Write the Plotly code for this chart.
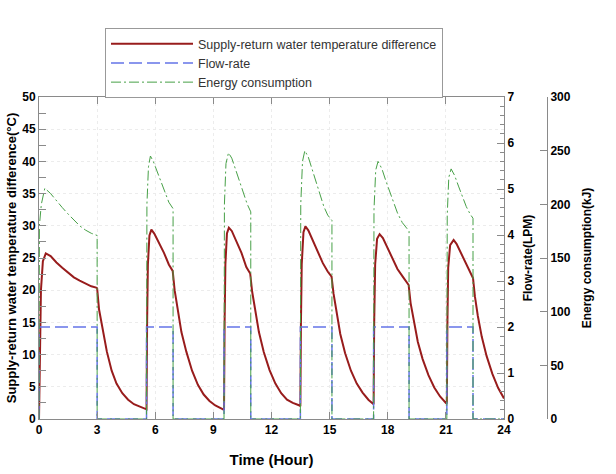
import plotly.graph_objects as go

# ---------------- data ----------------
t_temp = [0.0, 0.05, 0.1, 0.2, 0.35, 0.6, 0.9, 1.2, 1.5, 1.8, 2.1, 2.4, 2.7, 2.95, 3.0,
          3.1, 3.25, 3.5, 3.75, 4.0, 4.3, 4.6, 4.9, 5.2, 5.5,
          5.55, 5.58, 5.62, 5.7, 5.8, 5.95, 6.2, 6.45, 6.7, 6.9,
          7.0, 7.15, 7.35, 7.6, 7.9, 8.2, 8.5, 8.8, 9.1, 9.5,
          9.55, 9.58, 9.62, 9.7, 9.8, 9.95, 10.2, 10.45, 10.7, 10.9,
          11.0, 11.15, 11.35, 11.6, 11.9, 12.2, 12.5, 12.8, 13.1, 13.45,
          13.49, 13.52, 13.56, 13.65, 13.75, 13.9, 14.15, 14.4, 14.65, 14.9, 15.1,
          15.2, 15.35, 15.55, 15.8, 16.1, 16.4, 16.7, 17.0, 17.25,
          17.27, 17.3, 17.35, 17.45, 17.58, 17.75, 18.0, 18.25, 18.5, 18.8, 19.08,
          19.18, 19.35, 19.55, 19.8, 20.1, 20.4, 20.7, 21.0,
          21.05, 21.08, 21.12, 21.22, 21.4, 21.55, 21.8, 22.05, 22.25, 22.4,
          22.5, 22.65, 22.85, 23.1, 23.4, 23.7, 24.0]
temp_diff = [0.0, 12.0, 20.0, 24.5, 25.7, 25.3, 24.3, 23.5, 22.7, 22.0, 21.5, 21.0, 20.6, 20.4, 20.3,
             17.0, 14.5, 10.5, 7.5, 5.5, 4.0, 3.0, 2.3, 1.9, 1.5,
             1.5, 15.0, 24.0, 28.5, 29.4, 28.8, 27.3, 25.8, 24.0, 23.0,
             20.0, 17.0, 13.5, 10.5, 7.5, 5.3, 3.8, 2.8, 2.1, 1.5,
             1.4, 15.0, 24.0, 28.8, 29.7, 29.2, 27.6, 25.8, 23.6, 22.6,
             19.8, 16.8, 13.5, 10.4, 7.6, 5.5, 4.0, 3.0, 2.5, 2.1,
             2.0, 15.0, 24.0, 29.0, 29.9, 29.3, 27.6, 25.8, 24.2, 22.9, 22.1,
             19.5, 16.5, 13.2, 10.2, 7.5, 5.5, 4.1, 3.0, 2.3,
             2.3, 15.0, 24.0, 28.0, 28.7, 28.1, 26.5, 24.8, 23.3, 22.0, 20.8,
             18.0, 15.0, 12.0, 9.3, 6.8, 4.9, 3.5, 2.5,
             2.4, 15.0, 23.5, 27.0, 27.8, 27.2, 25.6, 24.0, 22.7, 21.9,
             19.0, 16.0, 12.8, 9.8, 7.0, 4.8, 3.2]

t_flow = [0, 0, 3.0, 3.0, 5.55, 5.55, 6.92, 6.92, 9.55, 9.55, 10.93, 10.93,
          13.49, 13.49, 15.12, 15.12, 17.27, 17.27, 19.1, 19.1, 21.05, 21.05, 22.4, 22.4, 24]
flow_rate = [0, 2.0, 2.0, 0, 0, 2.0, 2.0, 0, 0, 2.0, 2.0, 0,
             0, 2.0, 2.0, 0, 0, 2.0, 2.0, 0, 0, 2.0, 2.0, 0, 0]

t_energy = [0, 0.02, 0.12, 0.3, 0.6, 0.9, 1.2, 1.5, 1.8, 2.1, 2.4, 2.7, 3.0, 3.0,
            5.55, 5.57, 5.65, 5.75, 5.9, 6.1, 6.3, 6.5, 6.7, 6.92, 6.92,
            9.55, 9.57, 9.65, 9.78, 9.95, 10.15, 10.35, 10.55, 10.75, 10.93, 10.93,
            13.49, 13.51, 13.6, 13.72, 13.9, 14.1, 14.3, 14.5, 14.7, 14.9, 15.12, 15.12,
            17.27, 17.29, 17.38, 17.5, 17.7, 17.9, 18.1, 18.3, 18.5, 18.75, 19.1, 19.1,
            21.05, 21.07, 21.15, 21.27, 21.45, 21.65, 21.85, 22.05, 22.25, 22.4, 22.4, 24]
energy = [0, 180, 200, 215, 210, 203, 197, 191, 185, 180, 176, 173, 171, 0,
          0, 200, 235, 245, 240, 230, 220, 210, 202, 196, 0,
          0, 200, 238, 248, 243, 232, 222, 212, 200, 193, 0,
          0, 200, 240, 250, 244, 232, 220, 208, 198, 190, 185, 0,
          0, 195, 232, 240, 233, 222, 212, 202, 192, 183, 175, 0,
          0, 190, 225, 233, 227, 217, 207, 198, 191, 187, 0, 0]

x_ticks = [0, 3, 6, 9, 12, 15, 18, 21, 24]

# ---------------- figure ----------------
FONT = "Liberation Sans"
AX = "#8a8a8a"
tickfont = dict(family=FONT, size=12, color="black", weight="bold")

fig = go.Figure()
fig.add_trace(go.Scatter(x=t_temp, y=temp_diff, mode="lines",
                         name="Supply-return water temperature difference",
                         line=dict(color="#981c1c", width=2)))
fig.add_trace(go.Scatter(x=t_flow, y=flow_rate, yaxis="y2", mode="lines",
                         name="Flow-rate",
                         line=dict(color="#6474e8", width=1.5, dash="13px,5px")))
fig.add_trace(go.Scatter(x=t_energy, y=energy, yaxis="y3", mode="lines",
                         name="Energy consumption",
                         line=dict(color="#47a047", width=1, dash="10px,3px,2px,3px")))

L, R = 39, 40
PW = 616 - L - R
XEND = (504 - L) / PW
POS3 = (547 - L) / PW

fig.update_layout(
    width=616, height=474,
    margin=dict(l=L, r=R, t=97, b=55),
    paper_bgcolor="white", plot_bgcolor="white",
    font=dict(family=FONT, color="black"),
    legend=dict(x=(105 - L) / PW, y=1 + (97 - 28) / 322, xanchor="left", yanchor="top",
                bgcolor="white", bordercolor="#999999", borderwidth=1,
                font=dict(family=FONT, size=12.5, color="#333333"),
                traceorder="normal", itemwidth=82, entrywidth=260,
                tracegroupgap=0),
    xaxis=dict(domain=[0, XEND], range=[0, 24], tickvals=x_ticks, automargin=False,
               ticks="inside", ticklen=7, tickcolor=AX, mirror="ticks",
               showline=True, linecolor=AX, linewidth=1,
               showgrid=True, gridcolor="#ececec", griddash="dot",
               zeroline=False, tickfont=tickfont,
               title=dict(text="Time (Hour)", standoff=18,
                          font=dict(family=FONT, size=15, color="black", weight="bold"))),
    yaxis=dict(range=[0, 50], dtick=5, ticks="inside", ticklen=7, tickcolor=AX, automargin=False,
               minor=dict(dtick=2.5, ticks="inside", ticklen=7, tickcolor=AX),
               showline=True, linecolor=AX, linewidth=1,
               showgrid=True, gridcolor="#ececec", griddash="dot",
               zeroline=False, tickfont=tickfont,
               title=dict(text="Supply-return water temperature difference(°C)", standoff=2,
                          font=dict(family=FONT, size=13, color="black", weight="bold"))),
    yaxis2=dict(range=[0, 7], dtick=1, side="right", overlaying="y", anchor="x", automargin=False,
                ticks="inside", ticklen=7, tickcolor=AX,
                minor=dict(dtick=0.2, ticks="inside", ticklen=4, tickcolor=AX),
                showline=True, linecolor=AX, linewidth=1, showgrid=False, zeroline=False,
                tickfont=tickfont,
                title=dict(text="Flow-rate(LPM)", standoff=10,
                           font=dict(family=FONT, size=12, color="black", weight="bold"))),
    yaxis3=dict(range=[0, 300], dtick=50, side="right", overlaying="y", anchor="free", automargin=False,
                position=POS3, ticks="inside", ticklen=7, tickcolor=AX,
                showline=True, linecolor=AX, linewidth=1, showgrid=False, zeroline=False,
                tickfont=tickfont,
                title=dict(text="Energy consumption(kJ)", standoff=12,
                           font=dict(family=FONT, size=12, color="black", weight="bold"))),
)

fig.write_html("out.html")
